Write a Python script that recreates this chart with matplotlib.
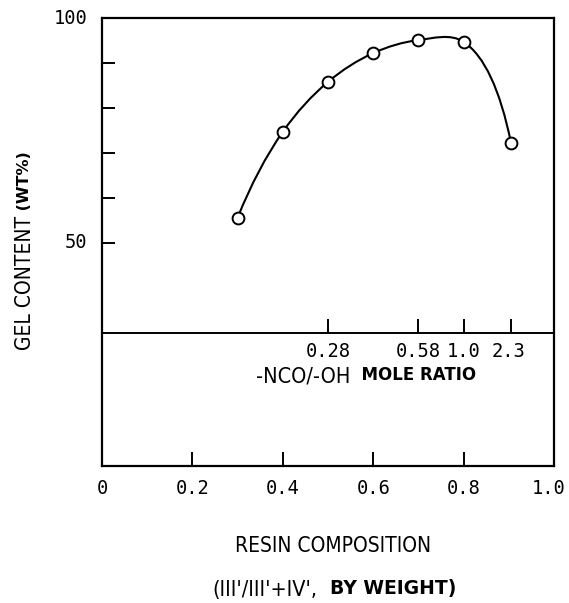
import matplotlib.pyplot as plt
import numpy as np
from matplotlib.path import Path
from matplotlib.patches import PathPatch

# data
resin_comp = [0.30, 0.40, 0.50, 0.60, 0.70, 0.80, 0.905]
gel_content = [55.6, 74.7, 85.8, 92.2, 95.1, 94.7, 72.2]

ratio_pos = [0.50, 0.70, 0.80, 0.905]
ratio_labels = ["0.28", "0.58", "1.0", "2.3"]
ratio_label_pos = [0.50, 0.70, 0.80, 0.90]

x_ticks = [0, 0.2, 0.4, 0.6, 0.8, 1.0]
x_ticklabels = ["0", "0.2", "0.4", "0.6", "0.8", "1.0"]

plt.rcParams["font.family"] = ["DejaVu Sans"]
NUM = dict(family="DejaVu Sans Mono", fontsize=13.5)
LAB = dict(family="DejaVu Sans", fontsize=15, fontstretch="condensed")
SMALL = dict(family="DejaVu Sans", fontsize=11.5, fontweight="bold")


def smooth_path(ax, x, y):
    # centripetal Catmull-Rom through the points, built in display space
    p = ax.transData.transform(np.column_stack([x, y]))
    n = len(p)
    dt = np.sqrt(np.linalg.norm(np.diff(p, axis=0), axis=1))
    m = np.zeros_like(p)
    for i in range(1, n - 1):
        m[i] = ((p[i] - p[i - 1]) / dt[i - 1]
                - (p[i + 1] - p[i - 1]) / (dt[i - 1] + dt[i])
                + (p[i + 1] - p[i]) / dt[i])
    m[0] = 2 * (p[1] - p[0]) / dt[0] - m[1]
    m[-1] = 2 * (p[-1] - p[-2]) / dt[-1] - m[-2]
    verts = [p[0]]
    codes = [Path.MOVETO]
    for i in range(n - 1):
        verts += [p[i] + m[i] * dt[i] / 3, p[i + 1] - m[i + 1] * dt[i] / 3,
                  p[i + 1]]
        codes += [Path.CURVE4] * 3
    verts = ax.transData.inverted().transform(np.array(verts))
    return Path(verts, codes)


fig = plt.figure(figsize=(5.69, 6.03), dpi=100)
ax = fig.add_axes([0.1793, 0.2272, 0.7943, 0.7429])
ax.set_xlim(0, 1.0)
ax.set_ylim(0.4, 100)

for s in ax.spines.values():
    s.set_linewidth(1.6)

ax.add_patch(PathPatch(smooth_path(ax, resin_comp, gel_content), fill=False,
                       lw=1.5, color="black", zorder=2))
ax.plot(resin_comp, gel_content, "o", ms=8.5, mfc="white", mec="black",
        mew=1.4, zorder=3)

# divider between the data panel and the ratio scale
ax.axhline(30, color="black", lw=1.4)
ax.vlines(ratio_pos, 30, 33, color="black", lw=1.4)
for xp, lab in zip(ratio_label_pos, ratio_labels):
    ax.text(xp, 25.8, lab, ha="center", va="center", **NUM)

t1 = ax.text(0.34, 20.2, "-NCO/-OH", ha="left", va="center",
             **dict(LAB, fontsize=15.5))
ax.annotate("  MOLE RATIO", xy=(1, 0.14), xycoords=t1, ha="left",
            va="bottom", **dict(SMALL, fontsize=12))

ax.set_xticks(x_ticks[1:-1])
ax.set_xticklabels([])
for xp, lab in zip(x_ticks, x_ticklabels):
    shift = -4 if xp == x_ticks[-1] else 0
    ax.annotate(lab, xy=(xp, -4.6), xytext=(shift, 0),
                textcoords="offset points", ha="center", va="center",
                annotation_clip=False, **NUM)
ax.tick_params(axis="x", direction="in", length=10, width=1.4)

ax.set_yticks([50, 60, 70, 80, 90, 100])
ax.set_yticklabels([])
ax.tick_params(axis="y", direction="in", length=9, width=1.4)
for yv in [50, 100]:
    ax.text(-0.032, yv, str(yv), ha="right", va="center", clip_on=False,
            **NUM)

yl = fig.text(0.0615, 1 - 350 / 603, "GEL CONTENT", rotation=90,
              ha="right", va="bottom", **LAB)
fig.add_artist(plt.Annotation(" (WT%)", xy=(0.85, 1), xycoords=yl,
                              rotation=90, ha="right", va="bottom", **SMALL))

fig.text(0.585, 0.0945, "RESIN COMPOSITION", ha="center", va="center", **LAB)
t2 = fig.text(0.3726, 0.0216, "(III'/III'+IV',", ha="left", va="center",
              **dict(LAB, fontsize=15.5))
fig.add_artist(plt.Annotation("  BY WEIGHT)", xy=(1, 0.12), xycoords=t2,
                              ha="left", va="bottom",
                              **dict(SMALL, fontsize=13.5)))

fig.savefig("out.png", dpi=100)
